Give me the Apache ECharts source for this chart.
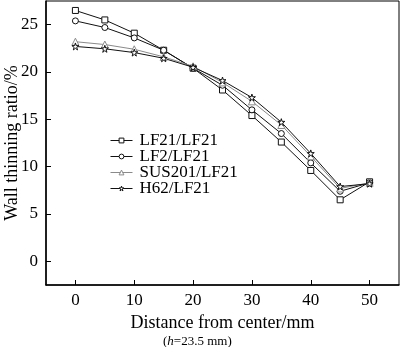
<!DOCTYPE html>
<html>
<head>
<meta charset="utf-8">
<script src="https://cdn.jsdelivr.net/npm/echarts@6/dist/echarts.min.js"></script>
<style>
  html, body { margin: 0; padding: 0; background: #fff; }
  #chart { width: 400px; height: 347px; }
</style>
</head>
<body>
<div id="chart"></div>
<script>
// distance from center (mm)
const distances = [0, 5, 10, 15, 20, 25, 30, 35, 40, 45, 50];

// wall thinning ratio (%) per material pair
const lf21Values = [26.5, 25.5, 24.1, 22.3, 20.4, 18.1, 15.4, 12.6, 9.6, 6.5, 8.4];
const lf2Values = [25.4, 24.7, 23.6, 22.3, 20.4, 18.6, 16.0, 13.5, 10.4, 7.4, 8.3];
const sus201Values = [23.2, 22.9, 22.4, 21.6, 20.6, 18.9, 16.9, 14.4, 11.1, 7.7, 8.3];
const h62Values = [22.7, 22.45, 22.05, 21.45, 20.5, 19.1, 17.3, 14.7, 11.4, 7.9, 8.2];

const seriesNames = ['LF21/LF21', 'LF2/LF21', 'SUS201/LF21', 'H62/LF21'];
const seriesColors = ['#111', '#111', '#8a8a8a', '#111'];

const xTicks = [0, 10, 20, 30, 40, 50];
const yTicks = [0, 5, 10, 15, 20, 25];

const starPath = 'path://M50,0 L61,35 L98,35 L68,57 L79,91 L50,70 L21,91 L32,57 L2,35 L39,35 Z';
const FONT = 'Liberation Serif';

function makeSeries(name, values, symbol, color, size) {
	return {
		name: name,
		type: 'line',
		data: distances.map((d, i) => [d, values[i]]),
		symbol: symbol,
		symbolSize: size,
		showAllSymbol: true,
		lineStyle: { color: color, width: 1 },
		itemStyle: { color: '#fff', borderColor: color, borderWidth: 1 },
		emphasis: { disabled: true },
		z: 3
	};
}

var chartDom = document.getElementById('chart');
var myChart = echarts.init(chartDom, null, { renderer: 'canvas' });

var option = {
	animation: false,
	backgroundColor: '#fff',
	textStyle: { fontFamily: FONT, color: '#000' },
	grid: {
		left: 46, right: 1, top: 1, bottom: 62,
		outerBoundsMode: 'none',
		containLabel: false,
		show: true, borderColor: '#000', borderWidth: 1
	},
	title: {
		text: '({i|h}=23.5 mm)',
		left: 158, top: 330,
		textStyle: {
			fontFamily: FONT, fontSize: 13, fontWeight: 'normal', color: '#000',
			rich: { i: { fontFamily: FONT, fontSize: 13, fontStyle: 'italic', color: '#000' } }
		}
	},
	// y axis name, drawn by hand so it sits close to the tick labels
	graphic: [{
		type: 'text',
		x: 12, y: 143,
		rotation: Math.PI / 2,
		style: {
			text: 'Wall thinning ratio/%',
			font: '18px "Liberation Serif"',
			fill: '#000',
			align: 'center',
			verticalAlign: 'middle'
		}
	}],
	legend: {
		data: seriesNames.map((n, i) => ({
			name: n,
			itemStyle: { color: '#fff', borderColor: seriesColors[i], borderWidth: 1 },
			lineStyle: { color: seriesColors[i], width: 1 }
		})),
		orient: 'vertical',
		left: 105, top: 127,
		itemWidth: 22, itemHeight: 6,
		itemGap: -1,
		textStyle: { fontFamily: FONT, fontSize: 17, color: '#000', padding: [0, 0, 0, 2] },
		selectedMode: false
	},
	xAxis: {
		type: 'value',
		min: -5, max: 55,
		name: 'Distance from center/mm',
		nameLocation: 'middle',
		nameGap: 27,
		nameTextStyle: { fontFamily: FONT, fontSize: 18, color: '#000' },
		axisLine: { onZero: false, lineStyle: { color: '#000', width: 1.5 } },
		axisTick: { inside: true, length: 5, customValues: xTicks, lineStyle: { color: '#000' } },
		axisLabel: { customValues: xTicks, fontFamily: FONT, fontSize: 17, color: '#000', margin: 7 },
		splitLine: { show: false }
	},
	yAxis: {
		type: 'value',
		min: -2.5, max: 27.5,
		axisLine: { onZero: false, lineStyle: { color: '#000', width: 1.5 } },
		axisTick: { inside: true, length: 5, customValues: yTicks, lineStyle: { color: '#000' } },
		axisLabel: { customValues: yTicks, fontFamily: FONT, fontSize: 17, color: '#000', margin: 8 },
		splitLine: { show: false }
	},
	series: [
		makeSeries(seriesNames[0], lf21Values, 'rect', seriesColors[0], 6),
		makeSeries(seriesNames[1], lf2Values, 'circle', seriesColors[1], 6),
		makeSeries(seriesNames[2], sus201Values, 'triangle', seriesColors[2], 7),
		makeSeries(seriesNames[3], h62Values, starPath, seriesColors[3], 7)
	]
};

option && myChart.setOption(option);
</script>
</body>
</html>
